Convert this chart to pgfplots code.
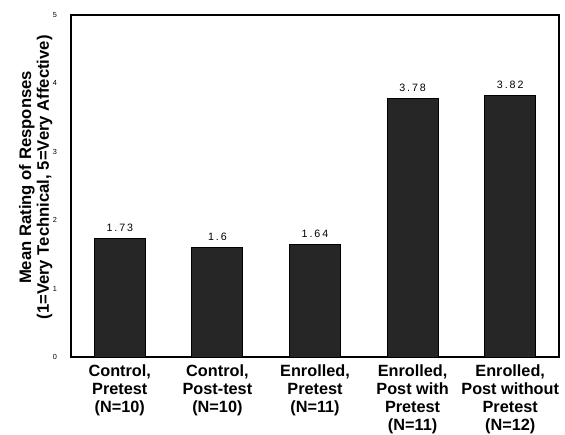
\documentclass[border=0pt]{standalone}
\usepackage{fontspec}
\setmainfont{Liberation Sans}
\newfontfamily\valfont[LetterSpace=18]{Liberation Sans}
\usepackage{pgfplots}
\pgfplotsset{compat=1.18}
\begin{document}
\begin{tikzpicture}
\begin{axis}[
  at={(0,0)}, anchor=south west,
  width=366pt, height=256.5pt,
  scale only axis,
  xmin=-0.5, xmax=4.5,
  ymin=0, ymax=5,
  ytick={0,1,2,3,4,5},
  xtick={0,1,2,3,4},
  xticklabels={{Control,\\Pretest\\(N=10)},{Control,\\Post-test\\(N=10)},{Enrolled,\\Pretest\\(N=11)},{Enrolled,\\Post with\\Pretest\\(N=11)},{Enrolled,\\Post without\\Pretest\\(N=12)}},
  xticklabel style={align=center, font=\fontsize{12.2}{13.7}\selectfont\bfseries, yshift=-2pt},
  yticklabel style={font=\fontsize{5.5}{6}\selectfont, xshift=-7pt},
  /pgf/number format/assume math mode=true,
  major tick length=0pt,
  axis line style={line width=1pt},
  ylabel={Mean Rating of Responses\\(1=Very Technical, 5=Very Affective)},
  ylabel style={align=center, font=\fontsize{12.5}{13.2}\selectfont\bfseries, at={(axis description cs:0,0.525)}, anchor=south, yshift=10.5pt},
  ybar, bar width=38.25pt,
  nodes near coords,
  point meta=explicit symbolic,
  nodes near coords style={font=\fontsize{8}{9}\selectfont\valfont, yshift=1.5pt},
]
\addplot[fill=black!85, draw=black, line width=0.6pt] coordinates {(0,1.73)[1.73] (1,1.6)[1.6] (2,1.64)[1.64] (3,3.78)[3.78] (4,3.82)[3.82]};
\end{axis}
\pgfresetboundingbox
\path (-53.25pt,-58.5pt) rectangle (370.5pt,267.75pt);
\end{tikzpicture}
\end{document}
